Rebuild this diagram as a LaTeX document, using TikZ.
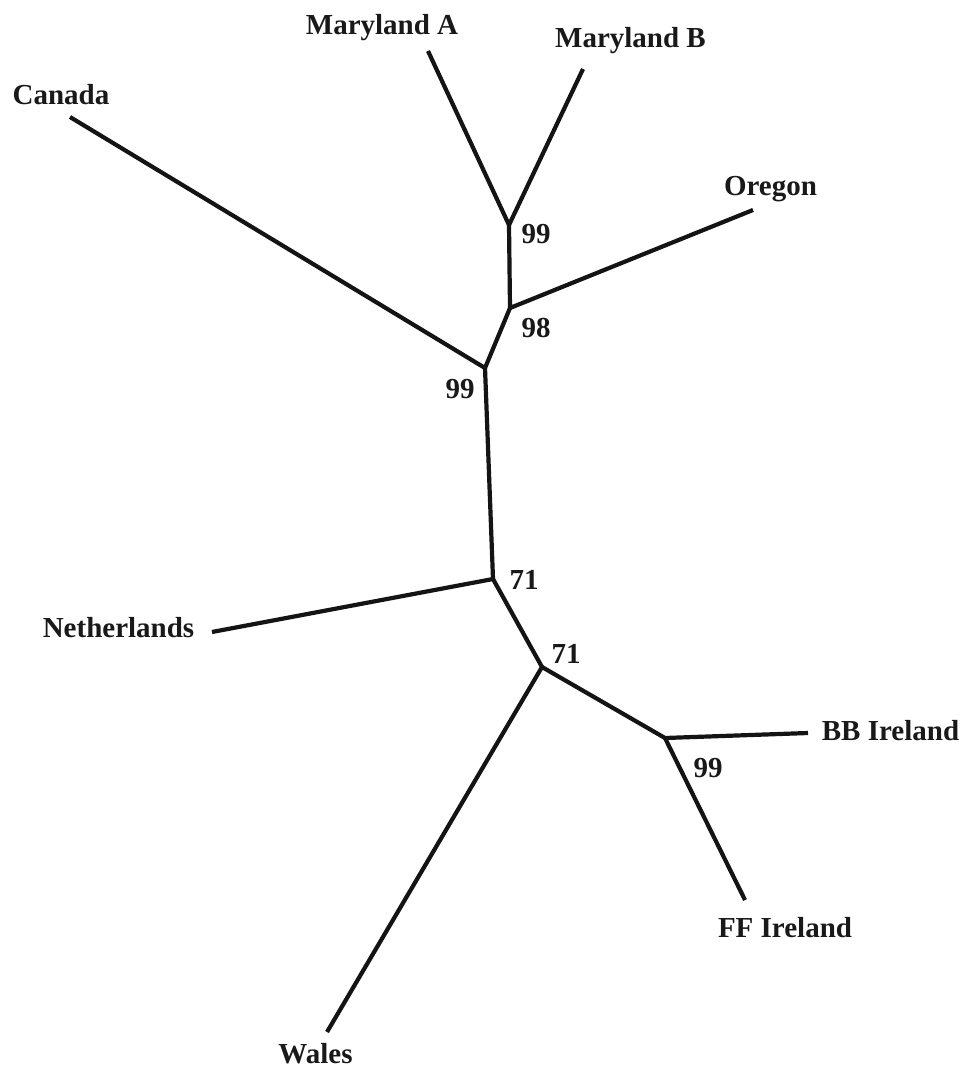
\documentclass[tikz,border=0pt]{standalone}
\usepackage{fontspec}
\setmainfont{Liberation Serif}
\begin{document}
\begin{tikzpicture}[x=1pt,y=-1pt,
  branch/.style={line width=4.2pt,draw=black!92,line cap=butt,line join=miter},
  taxon/.style={anchor=base,inner sep=0pt,font=\fontsize{29}{32}\selectfont\bfseries,text=black!90},
  boot/.style={anchor=base,inner sep=0pt,font=\fontsize{29}{32}\selectfont\bfseries,text=black!90}]
\useasboundingbox (0,0) rectangle (965,1070);
% internal nodes
\coordinate (n1) at (509,225);
\coordinate (n2) at (510,308);
\coordinate (n3) at (485,368);
\coordinate (n4) at (493,579);
\coordinate (n5) at (542,667);
\coordinate (n6) at (665,738);
% leaf ends
\coordinate (ma) at (428,51);
\coordinate (mb) at (583,69);
\coordinate (or) at (753,210);
\coordinate (ca) at (70,117);
\coordinate (ne) at (212,632);
\coordinate (bb) at (808,733);
\coordinate (ff) at (745,900);
\coordinate (wa) at (327,1032);
% branches
\draw[branch] (ma) -- (n1) -- (mb);
\draw[branch] (n1) -- (n2) -- (or);
\draw[branch] (n2) -- (n3) -- (ca);
\draw[branch] (n3) -- (n4) -- (ne);
\draw[branch] (n4) -- (n5) -- (wa);
\draw[branch] (n5) -- (n6) -- (bb);
\draw[branch] (n6) -- (ff);
% taxon labels
\node[taxon] (tma) at (382,35) {Maryland A};
\node[taxon] (tmb) at (630.5,48) {Maryland B};
\node[taxon] (tca) at (61,105) {Canada};
\node[taxon] (tor) at (770.5,195) {Oregon};
\node[taxon] (tne) at (118.5,637) {Netherlands};
\node[taxon] (tbb) at (890.5,740) {BB Ireland};
\node[taxon] (tff) at (785,937) {FF Ireland};
\node[taxon] (twa) at (315.5,1063) {Wales};
% bootstrap values
\node[boot] (b1) at (536,243) {99};
\node[boot] (b2) at (536,337) {98};
\node[boot] (b3) at (460,398) {99};
\node[boot] (b4) at (524,589) {71};
\node[boot] (b5) at (566,663) {71};
\node[boot] (b6) at (708,777) {99};
\end{tikzpicture}
\end{document}
